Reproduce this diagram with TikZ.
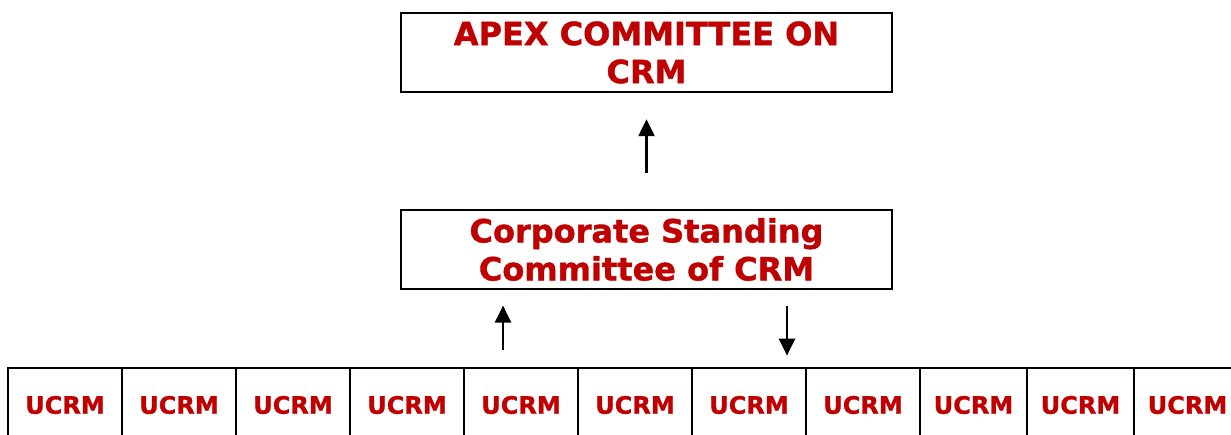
\documentclass[tikz,border=0pt]{standalone}
\usepackage{fontspec}
\setmainfont{DejaVu Sans}[BoldFeatures={FakeBold=1.2}]
\usetikzlibrary{positioning,arrows.meta}
\definecolor{CrmRed}{HTML}{C00000}
\tikzset{
  cmtbox/.style={draw=black,line width=2.4pt,fill=white,
    minimum width=491pt,minimum height=79pt,
    font=\fontsize{32}{38}\selectfont\bfseries\color{CrmRed},
    align=center,inner sep=0pt},
  unitbox/.style={draw=black,line width=2.8pt,
    minimum height=74pt,inner sep=0pt,
    font=\fontsize{24}{28}\selectfont\bfseries\color{CrmRed}},
  flow/.style={line width=2.4pt,-{Triangle[length=17pt,width=16pt]}},
}

\begin{document}
\begin{tikzpicture}[x=1pt,y=-1pt]
  \clip (0,0) rectangle (1231,434);
  \node[cmtbox] (apex) at (646.5, 52.5) {APEX COMMITTEE ON\\CRM};
  \node[cmtbox] (csc) at (646.5,249.5) {Corporate Standing\\Committee of CRM};
  \node[unitbox,minimum width=114pt] (u1) at (65,405) {UCRM};
  \node[unitbox,minimum width=114pt] (u2) at (179,405) {UCRM};
  \node[unitbox,minimum width=114pt] (u3) at (293,405) {UCRM};
  \node[unitbox,minimum width=114pt] (u4) at (407,405) {UCRM};
  \node[unitbox,minimum width=114pt] (u5) at (521,405) {UCRM};
  \node[unitbox,minimum width=114pt] (u6) at (635,405) {UCRM};
  \node[unitbox,minimum width=114pt] (u7) at (749,405) {UCRM};
  \node[unitbox,minimum width=114pt] (u8) at (863,405) {UCRM};
  \node[unitbox,minimum width=107pt] (u9) at (973.5,405) {UCRM};
  \node[unitbox,minimum width=107pt] (u10) at (1080.5,405) {UCRM};
  \node[unitbox,minimum width=107pt] (u11) at (1187.5,405) {UCRM};
  \draw[flow] ([yshift=36pt]csc.north) -- ([yshift=-26pt]apex.south);
  \draw[flow] ([xshift=-18pt,yshift=17pt]u5.north) -- ([xshift=-18pt,yshift=61pt]u5.north);
  \draw[flow] ([xshift=38pt,yshift=61pt]u7.north) -- ([xshift=38pt,yshift=11pt]u7.north);
\end{tikzpicture}
\end{document}
